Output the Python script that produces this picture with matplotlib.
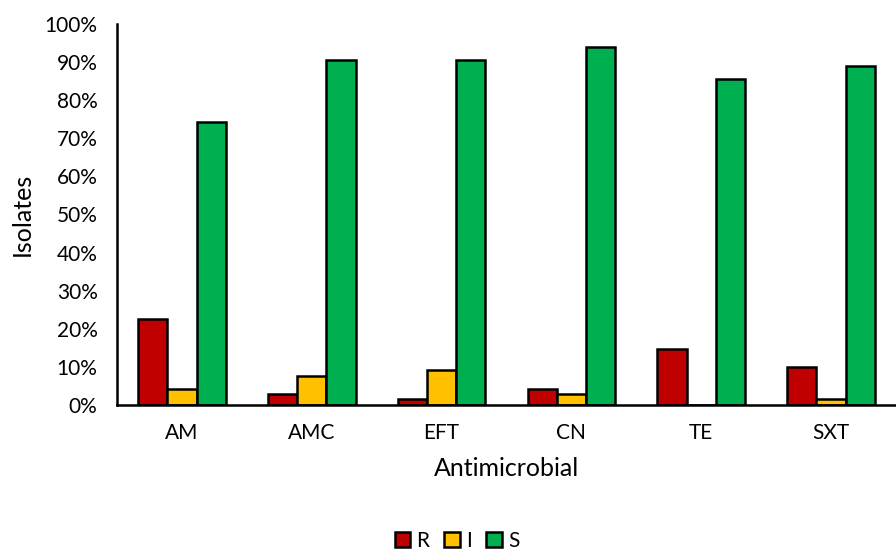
import matplotlib.pyplot as plt
import numpy as np
from matplotlib.ticker import PercentFormatter

plt.rcParams['font.family'] = ['Lato', 'DejaVu Sans']

antimicrobials = ["AM", "AMC", "EFT", "CN", "TE", "SXT"]
r_vals = [22.5, 2.8, 1.5, 4.1, 14.8, 9.9]
i_vals = [4.1, 7.7, 9.2, 2.8, 0.0, 1.5]
s_vals = [74.4, 90.6, 90.6, 93.9, 85.6, 89.0]

fig = plt.figure(figsize=(8.96, 5.55), dpi=100)
ax = fig.add_axes([0.1306, 0.2703, 0.8694, 0.6865])

x = np.arange(len(antimicrobials))
w = 0.225
ax.bar(x - w, r_vals, w, color="#C00000", edgecolor="black", linewidth=1.8, label="R")
ax.bar(x, i_vals, w, color="#FFC000", edgecolor="black", linewidth=1.8, label="I")
ax.bar(x + w, s_vals, w, color="#00B050", edgecolor="black", linewidth=1.8, label="S")

ax.set_xlim(-0.5, len(antimicrobials) - 0.5)
ax.set_ylim(0, 100)
ax.set_yticks(np.arange(0, 101, 10))
ax.yaxis.set_major_formatter(PercentFormatter(decimals=0))
ax.set_xticks(x)
ax.set_xticklabels(antimicrobials)
ax.tick_params(axis="both", length=0, labelsize=15, colors="black")
ax.tick_params(axis="x", pad=13)
ax.tick_params(axis="y", pad=14)

for side in ["top", "right"]:
    ax.spines[side].set_visible(False)
ax.spines["left"].set_linewidth(1.8)
ax.spines["bottom"].set_linewidth(1.8)

ax.set_ylabel("Isolates", fontsize=18, labelpad=8)
ax.set_xlabel("Antimicrobial", fontsize=18, labelpad=10)

fig.legend(loc="lower center", bbox_to_anchor=(0.51, -0.026), ncol=3, frameon=False,
           fontsize=15, handlelength=0.75, handleheight=0.75, handletextpad=0.3,
           columnspacing=0.7)

fig.savefig("out.png", dpi=100)
